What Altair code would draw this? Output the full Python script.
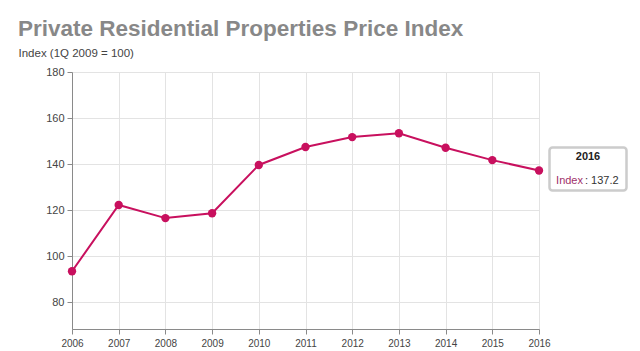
import altair as alt
import pandas as pd

years = [2006, 2007, 2008, 2009, 2010, 2011, 2012, 2013, 2014, 2015, 2016]
index_values = [93.4, 122.2, 116.5, 118.6, 139.6, 147.4, 151.7, 153.4, 147.1, 141.7, 137.2]

df = pd.DataFrame({"year": years, "index": index_values})
last = df.tail(1).copy()
last["label_year"] = last["year"].astype(str)
last["label_val"] = ": " + last["index"].map(lambda v: f"{v:.1f}")

LINE = "#c8105e"

x = alt.X("year:Q", scale=alt.Scale(domain=[2006, 2016], nice=False, zero=False),
          axis=alt.Axis(values=years, format="d", title=None, grid=True, gridColor="#e3e3e3",
                        domainColor="#8a8a8a", tickColor="#8a8a8a", tickSize=5, labelFlush=False,
                        labelFontSize=10, labelColor="#444", labelPadding=4, labelFont="Liberation Sans"))
y = alt.Y("index:Q", scale=alt.Scale(domain=[68.3, 180], nice=False, zero=False),
          axis=alt.Axis(values=[80, 100, 120, 140, 160, 180], title="Index (1Q 2009 = 100)",
                        titleAngle=0, titleAlign="left", titleX=-54, titleY=-19, titleBaseline="middle",
                        titleFontSize=11.5, titleFontWeight="normal", titleColor="#444", titleFont="Liberation Sans",
                        grid=True, gridColor="#e3e3e3", domainColor="#8a8a8a", tickColor="#8a8a8a",
                        tickSize=5, labelFontSize=11, labelColor="#444", labelPadding=3,
                        labelFont="Liberation Sans"))

line = alt.Chart(df).mark_line(color=LINE, strokeWidth=2).encode(x=x, y=y)
pts = alt.Chart(df).mark_circle(color=LINE, size=70, opacity=1).encode(x=x, y=y)

box = alt.Chart(last).mark_rect(width=77, height=43, xOffset=49, yOffset=-1.5, fill="white",
                                stroke="#cccccc", strokeWidth=2.5, cornerRadius=3).encode(x=x, y=y)
t_year = alt.Chart(last).mark_text(dx=49, dy=-13, fontWeight="bold", fontSize=11, color="#222",
                                   font="Liberation Sans").encode(x=x, y=y, text="label_year:N")
t_name = alt.Chart(last).mark_text(dx=44, dy=11, align="right", fontSize=11, color="#a0306a",
                                   font="Liberation Sans").encode(x=x, y=y, text=alt.value("Index"))
t_val = alt.Chart(last).mark_text(dx=46, dy=11, align="left", fontSize=11, color="#333",
                                  font="Liberation Sans").encode(x=x, y=y, text="label_val:N")

chart = (line + pts + box + t_year + t_name + t_val).properties(
    width=467, height=257,
    title=alt.TitleParams("Private Residential Properties Price Index", anchor="start", frame="bounds",
                          fontSize=22.5, fontWeight="bold", color="#888888", font="Liberation Sans",
                          offset=7),
    autosize=alt.AutoSizeParams(type="none"),
    padding={"left": 72, "top": 72, "right": 101, "bottom": 22},
).configure_view(stroke=None).configure(background="white")

chart.save("out.html", embed_options={"renderer": "svg", "actions": False})
